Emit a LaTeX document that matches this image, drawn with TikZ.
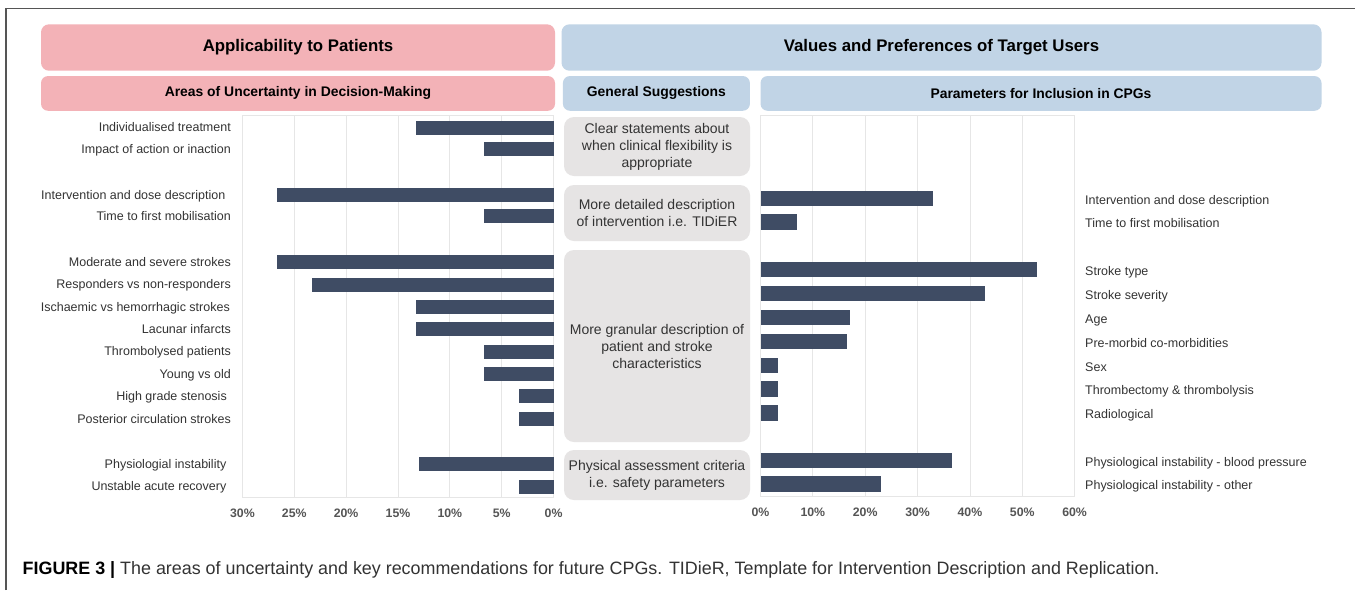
\documentclass[tikz,border=0pt]{standalone}
\usepackage{fontspec}
\setmainfont{Liberation Sans}
\definecolor{pinkc}{HTML}{F3B2B7}
\definecolor{bluec}{HTML}{C1D4E6}
\definecolor{greyc}{HTML}{E6E4E4}
\definecolor{barc}{HTML}{3F4C64}
\definecolor{gridc}{HTML}{E6E6E6}
\definecolor{labc}{HTML}{333333}
\definecolor{axc}{HTML}{555555}
\definecolor{framec}{HTML}{555555}
\tikzset{
  hdr/.style={rounded corners=8pt, inner sep=0pt, text=black, font=\fontsize{16.8}{20}\selectfont\bfseries},
  subhdr/.style={rounded corners=7pt, inner sep=0pt, text=black, minimum height=34.7pt, font=\fontsize{13.9}{16}\selectfont\bfseries},
  gbox/.style={fill=greyc, rounded corners=10pt, inner sep=0pt, minimum width=186pt, align=center, text=labc, font=\fontsize{14}{17}\selectfont},
  lab/.style={inner sep=0pt, text=labc, font=\fontsize{12.5}{15}\selectfont},
  axl/.style={inner sep=0pt, text=axc, font=\fontsize{12.3}{15}\selectfont\bfseries},
  gridline/.style={draw=gridc, line width=0.8pt},
  plotframe/.style={draw=gridc, line width=0.8pt}
}
\begin{document}
\begin{tikzpicture}[x=1pt,y=-1pt]
\useasboundingbox (0,0) rectangle (1355,590);
\fill[white] (0,0) rectangle (1355,590);
% frame
\draw[framec, line width=1.5pt] (6,590) -- (6,8.5) -- (1355,8.5);
% headers
\node[hdr, fill=pinkc, minimum width=514pt, minimum height=46.4pt] (h1) at (298,47.5) {Applicability to Patients};
\node[hdr, fill=bluec, minimum width=760pt, minimum height=46.4pt] (h2) at (941.5,47.5) {Values and Preferences of Target Users};
\node[subhdr, fill=pinkc, minimum width=514pt] (s1) at (298,93.4) {Areas of Uncertainty in Decision-Making};
\node[subhdr, fill=bluec, minimum width=187pt] (s2) at (656.4,93.4) {General Suggestions};
\node[subhdr, fill=bluec, minimum width=561pt] (s3) at (1041,93.4) {Parameters for Inclusion in CPGs};
% left plot grid
\foreach \k in {0,...,6} \draw[gridline] ({553.6-\k*51.87},115) -- ({553.6-\k*51.87},497);
\draw[plotframe] (242.4,115) rectangle (553.6,497);
% right plot grid
\foreach \k in {0,...,6} \draw[gridline] ({760.5+\k*52.35},115) -- ({760.5+\k*52.35},496);
\draw[plotframe] (760.5,115) rectangle (1074.6,496);
% left bars
\foreach \yy/\vv/\xe/\nn/\txt in {
 127.5/13.3/231/1/{Individualised treatment},
 149/6.7/231/2/{Impact of action or inaction},
 195/26.7/225.5/3/{Intervention and dose description},
 216/6.7/231/4/{Time to first mobilisation},
 262/26.7/231/5/{Moderate and severe strokes},
 284.5/23.3/231/6/{Responders vs non-responders},
 307/13.3/230/7/{Ischaemic vs hemorrhagic strokes},
 329/13.3/231/8/{Lacunar infarcts},
 351.5/6.7/231/9/{Thrombolysed patients},
 374/6.7/231/10/{Young vs old},
 396/3.3/227/11/{High grade stenosis},
 419/3.3/231/12/{Posterior circulation strokes},
 464/13.0/226.5/13/{Physiologial instability},
 486.5/3.3/226.5/14/{Unstable acute recovery}}
{
  \fill[barc] ({553.6-\vv*10.37},\yy-7) rectangle (553.6,\yy+7);
  \node[lab, anchor=base east] (L\nn) at (\xe,\yy+4.2) {\txt};
}
% right bars
\foreach \yy/\vv/\nn/\txt in {
 198.5/32.9/1/{Intervention and dose description},
 222/7.0/2/{Time to first mobilisation},
 269.5/52.8/3/{Stroke type},
 293.5/42.9/4/{Stroke severity},
 317.5/17.0/5/{Age},
 341.5/16.6/6/{Pre-morbid co-morbidities},
 365.5/3.3/7/{Sex},
 389/3.3/8/{Thrombectomy \& thrombolysis},
 413/3.3/9/{Radiological},
 460.5/36.6/10/{Physiological instability - blood pressure},
 484/23.0/11/{Physiological instability - other}}
{
  \fill[barc] (760.5,\yy-7.6) rectangle ({760.5+\vv*5.235},\yy+7.6);
  \node[lab, anchor=base west] (R\nn) at (1085,\yy+5.5) {\txt};
}
% axis labels
\foreach \k/\lb in {0/0,1/5,2/10,3/15,4/20,5/25,6/30}
  \node[axl, anchor=base] (la\k) at ({553.6-\k*51.87},517) {\lb\%};
\foreach \k/\lb in {0/0,1/10,2/20,3/30,4/40,5/50,6/60}
  \node[axl, anchor=base] (ra\k) at ({760.5+\k*52.35},516) {\lb\%};
% grey suggestion boxes
\node[gbox, minimum height=59pt] (g1) at (657,146.5) {Clear statements about\\when clinical flexibility is\\appropriate};
\node[gbox, minimum height=56pt] (g2) at (657,213) {More detailed description\\of intervention i.e. TIDiER};
\node[gbox, minimum height=192pt] (g3) at (657,346) {More granular description of\\patient and stroke\\characteristics};
\node[gbox, minimum height=50pt] (g4) at (657,475) {Physical assessment criteria\\i.e. safety parameters};
% caption
\node[anchor=base west, inner sep=0pt, text=labc, font=\fontsize{17.9}{20}\selectfont] (cap) at (22.5,574.5)
  {\textcolor{black}{\bfseries FIGURE 3 |} The areas of uncertainty and key recommendations for future CPGs. TIDieR, Template for Intervention Description and Replication.};
\end{tikzpicture}
\end{document}
